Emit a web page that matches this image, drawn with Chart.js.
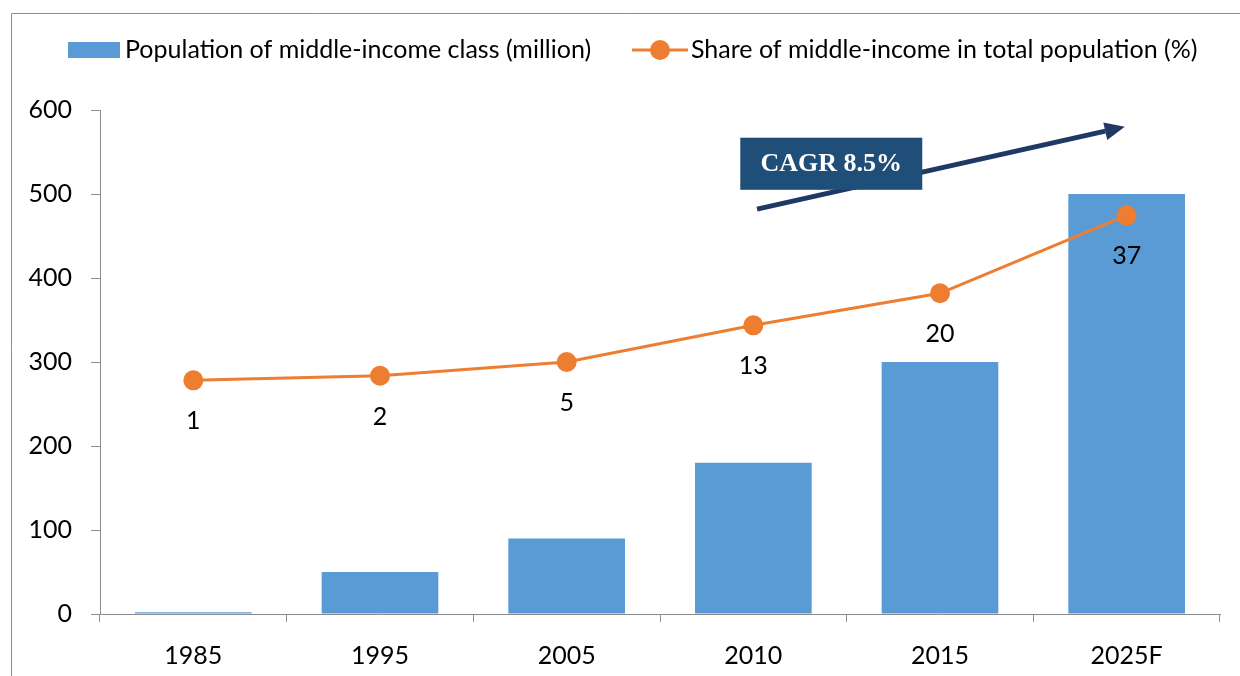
<!DOCTYPE html>
<html>
<head>
<meta charset="utf-8">
<script src="https://cdn.jsdelivr.net/npm/chart.js@4"></script>
<style>
html,body{margin:0;padding:0;background:#fff;}
#wrap{position:relative;width:1240px;height:676px;}
</style>
</head>
<body>
<div id="wrap"><canvas id="c" width="1240" height="676"></canvas></div>
<script>
const categories = ['1985', '1995', '2005', '2010', '2015', '2025F'];
const populationMillion = [2, 50, 90, 180, 300, 500];
const sharePercent = [1, 2, 5, 13, 20, 37];
const yTicks = [0, 100, 200, 300, 400, 500, 600];
const barLabel = 'Population of middle-income class (million)';
const lineLabel = 'Share of middle-income in total population (%)';
const cagrText = 'CAGR 8.5%';

const FONT = 'Lato, "Open Sans", sans-serif';
const BAR_COLOR = '#5B9BD5';
const LINE_COLOR = '#ED7D31';

const decor = {
  id: 'decor',
  beforeDraw(chart) {
    const ctx = chart.ctx;
    ctx.save();
    ctx.fillStyle = '#fff';
    ctx.fillRect(0, 0, chart.width, chart.height);
    ctx.strokeStyle = '#8c8c8c';
    ctx.lineWidth = 1;
    ctx.beginPath();
    ctx.moveTo(11.5, chart.height);
    ctx.lineTo(11.5, 13.5);
    ctx.lineTo(chart.width, 13.5);
    ctx.stroke();
    ctx.restore();
  },
  afterDraw(chart) {
    const ctx = chart.ctx;
    const xs = chart.scales.x, ys = chart.scales.y;
    ctx.save();
    ctx.font = '25px ' + FONT;
    ctx.fillStyle = '#000';
    ctx.textAlign = 'center';
    ctx.textBaseline = 'middle';
    const meta = chart.getDatasetMeta(0);
    meta.data.forEach((pt, i) => {
      ctx.fillText(String(sharePercent[i]), pt.x, pt.y + 41);
    });

    const ax0 = xs.getPixelForValue(3.02), ay0 = ys.getPixelForValue(482);
    const ax1 = xs.getPixelForValue(4.99), ay1 = ys.getPixelForValue(580);
    const ang = Math.atan2(ay1 - ay0, ax1 - ax0);
    const headLen = 20, headW = 9;
    const bx = ax1 - headLen * Math.cos(ang), by = ay1 - headLen * Math.sin(ang);
    ctx.strokeStyle = '#1F3864';
    ctx.lineWidth = 5;
    ctx.beginPath();
    ctx.moveTo(ax0, ay0);
    ctx.lineTo(bx, by);
    ctx.stroke();
    ctx.fillStyle = '#1F3864';
    ctx.beginPath();
    ctx.moveTo(ax1, ay1);
    ctx.lineTo(bx + headW * Math.sin(ang), by - headW * Math.cos(ang));
    ctx.lineTo(bx - headW * Math.sin(ang), by + headW * Math.cos(ang));
    ctx.closePath();
    ctx.fill();

    const rx0 = xs.getPixelForValue(2.93), rx1 = xs.getPixelForValue(3.905);
    const ry0 = ys.getPixelForValue(567), ry1 = ys.getPixelForValue(505);
    ctx.fillStyle = '#1F4E79';
    ctx.fillRect(rx0, ry0, rx1 - rx0, ry1 - ry0);
    ctx.fillStyle = '#fff';
    ctx.font = 'bold 26px "Liberation Serif", "DejaVu Serif", serif';
    ctx.textAlign = 'center';
    ctx.textBaseline = 'middle';
    ctx.fillText(cagrText, (rx0 + rx1) / 2, (ry0 + ry1) / 2 + 1);

    ctx.font = '25px ' + FONT;
    ctx.textAlign = 'left';
    ctx.textBaseline = 'middle';
    const ly = 50;
    ctx.fillStyle = BAR_COLOR;
    ctx.fillRect(68, 42, 52, 16);
    ctx.fillStyle = '#000';
    ctx.fillText(barLabel, 125, ly);
    ctx.strokeStyle = LINE_COLOR;
    ctx.lineWidth = 3;
    ctx.beginPath();
    ctx.moveTo(632, ly);
    ctx.lineTo(688, ly);
    ctx.stroke();
    ctx.fillStyle = LINE_COLOR;
    ctx.beginPath();
    ctx.arc(660, ly, 10, 0, Math.PI * 2);
    ctx.fill();
    ctx.fillStyle = '#000';
    ctx.fillText(lineLabel, 691, ly);
    ctx.restore();
  }
};

new Chart(document.getElementById('c'), {
  type: 'bar',
  data: {
    labels: categories,
    datasets: [
      {
        type: 'line',
        label: lineLabel,
        data: sharePercent,
        yAxisID: 'y1',
        borderColor: LINE_COLOR,
        backgroundColor: LINE_COLOR,
        borderWidth: 3,
        pointRadius: 10,
        pointHoverRadius: 10,
        pointBackgroundColor: LINE_COLOR,
        pointBorderWidth: 0,
        tension: 0,
        order: 0
      },
      {
        type: 'bar',
        label: barLabel,
        data: populationMillion,
        yAxisID: 'y',
        backgroundColor: BAR_COLOR,
        borderWidth: 0,
        categoryPercentage: 1,
        barPercentage: 0.625,
        order: 1
      }
    ]
  },
  options: {
    responsive: false,
    animation: false,
    devicePixelRatio: 1,
    layout: { padding: { top: 110, right: 20, left: 0, bottom: 0 } },
    plugins: { legend: { display: false }, tooltip: { enabled: false } },
    scales: {
      x: {
        offset: true,
        grid: { display: true, drawOnChartArea: false, offset: true, tickLength: 8, color: '#8c8c8c' },
        border: { color: '#8c8c8c', width: 1 },
        ticks: { font: { family: FONT, size: 25 }, color: '#000', padding: 19 },
        afterFit(s) { s.height = 62; }
      },
      y: {
        position: 'left',
        min: 0, max: 600,
        afterBuildTicks(s) { s.ticks = yTicks.map(v => ({ value: v })); },
        grid: { display: true, drawOnChartArea: false, tickLength: 9, color: '#8c8c8c' },
        border: { color: '#8c8c8c', width: 1 },
        ticks: { font: { family: FONT, size: 25 }, color: '#000', padding: 19 },
        afterFit(s) { s.width = 100; }
      },
      y1: {
        display: false,
        min: -50, max: 60
      }
    }
  },
  plugins: [decor]
});
</script>
</body>
</html>
